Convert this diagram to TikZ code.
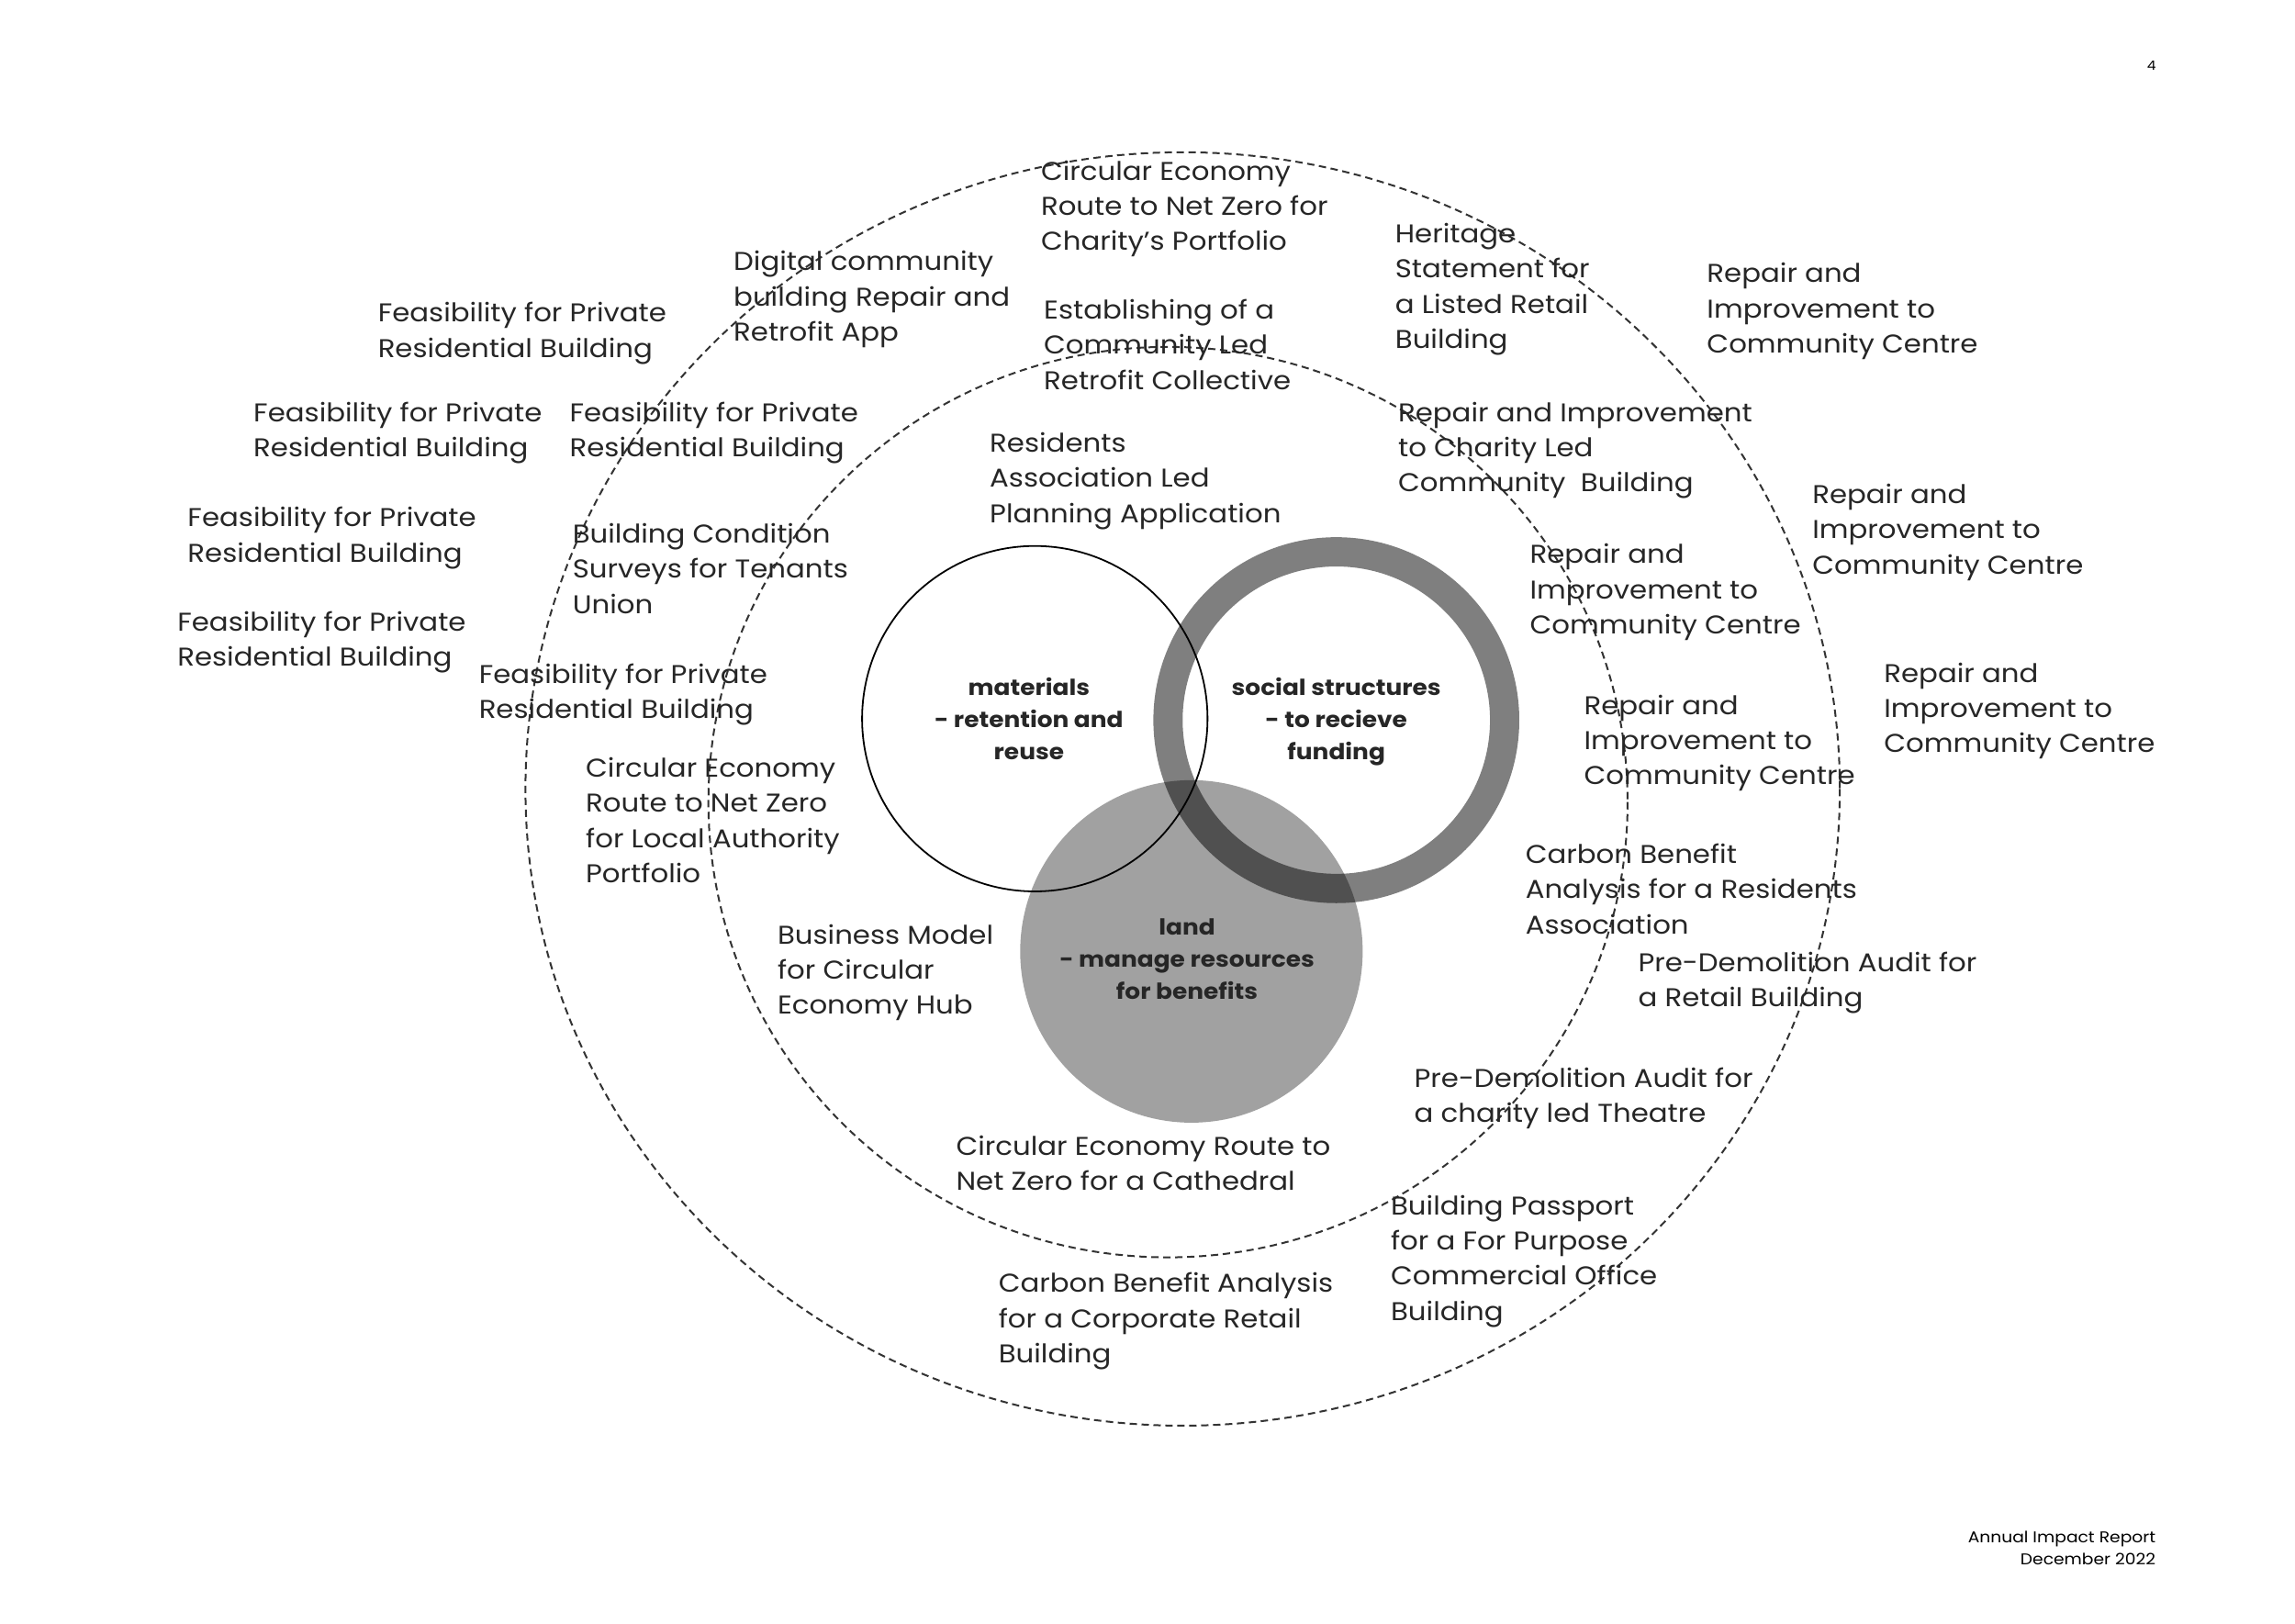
\documentclass[tikz,border=0pt]{standalone}
\usepackage{fontspec}
\setmainfont{Poppins}[FakeStretch=1.1]
\begin{document}
\begin{tikzpicture}[x=0.7972pt,y=-0.7972pt,
  lab/.style={anchor=base west,inner sep=0pt,align=left,font=\fontsize{14}{19.13}\selectfont,text=black!85},
  venntxt/.style={anchor=base,inner sep=0pt,align=center,font=\bfseries\fontsize{12}{17.5}\selectfont,text=black!85},
  ring/.style={dash pattern=on 4pt off 2.5pt,line width=1pt,black!80}]
\useasboundingbox (0,0) rectangle (1568,1109);
\fill[white] (0,0) rectangle (1568,1109);
% dashed rings
\draw[ring] (808,539) ellipse [x radius=449, y radius=435];
\draw[ring] (798,548) ellipse [x radius=314, y radius=311];
% labels (anchored at the baseline of the last line)
\node[lab] (l1) at (711,171) {Circular Economy\\Route to Net Zero for\\Charity’s Portfolio};
\node[lab] (l2) at (501,233) {Digital community\\building Repair and\\Retrofit App};
\node[lab] (l3) at (258,244) {Feasibility for Private\\Residential Building};
\node[lab] (l4) at (713,266) {Establishing of a\\Community Led\\Retrofit Collective};
\node[lab] (l5) at (953,238) {Heritage\\Statement for\\a Listed Retail\\Building};
\node[lab] (l6) at (1166,241) {Repair and\\Improvement to\\Community Centre};
\node[lab] (l7) at (173,312) {Feasibility for Private\\Residential Building};
\node[lab] (l8) at (389,312) {Feasibility for Private\\Residential Building};
\node[lab] (l9) at (955,336) {Repair and Improvement\\to Charity Led\\Community\ \ Building};
\node[lab] (l10) at (676,357) {Residents\\Association Led\\Planning Application};
\node[lab] (l11) at (1238,392) {Repair and\\Improvement to\\Community Centre};
\node[lab] (l12) at (128,384) {Feasibility for Private\\Residential Building};
\node[lab] (l13) at (391,419) {Building Condition\\Surveys for Tenants\\Union};
\node[lab] (l14) at (1045,433) {Repair and\\Improvement to\\Community Centre};
\node[lab] (l15) at (121,455) {Feasibility for Private\\Residential Building};
\node[lab] (l16) at (327,491) {Feasibility for Private\\Residential Building};
\node[lab] (l17) at (1287,514) {Repair and\\Improvement to\\Community Centre};
\node[lab] (l18) at (1082,536) {Repair and\\Improvement to\\Community Centre};
\node[lab] (l19) at (400,603) {Circular Economy\\Route to Net Zero\\for Local Authority\\Portfolio};
\node[lab] (l20) at (1042,638) {Carbon Benefit\\Analysis for a Residents\\Association};
\node[lab] (l21) at (531,693) {Business Model\\for Circular\\Economy Hub};
\node[lab] (l22) at (1119,688) {Pre-Demolition Audit for\\a Retail Building};
\node[lab] (l23) at (966,767) {Pre-Demolition Audit for\\a charity led Theatre};
\node[lab] (l24) at (653,813) {Circular Economy Route to\\Net Zero for a Cathedral};
\node[lab] (l25) at (950,902) {Building Passport\\for a For Purpose\\Commercial Office\\Building};
\node[lab] (l26) at (682,931) {Carbon Benefit Analysis\\for a Corporate Retail\\Building};
% venn
\node[circle,fill=black,fill opacity=0.37,minimum size=234*0.7972pt,inner sep=0pt] (land) at (814,650) {};
\node[circle,draw=black,draw opacity=0.5,line width=20*0.7972pt,minimum size=230*0.7972pt,inner sep=0pt] (social) at (913,492) {};
\node[circle,draw=black,line width=0.9pt,minimum size=236*0.7972pt,inner sep=0pt] (mat) at (707,491) {};
\node[venntxt] (t1) at (703,519) {materials\\- retention and\\reuse};
\node[venntxt] (t2) at (913,519) {social structures\\- to recieve\\funding};
\node[venntxt] (t3) at (811,683) {land\\- manage resources\\for benefits};
% page furniture
\node[anchor=base,inner sep=0pt,font=\fontsize{7}{8}\selectfont] (pg) at (1470,48) {4};
\node[anchor=base east,inner sep=0pt,align=right,font=\fontsize{8.5}{12}\selectfont] (foot) at (1473,1069) {Annual Impact Report\\December 2022};
\end{tikzpicture}
\end{document}
